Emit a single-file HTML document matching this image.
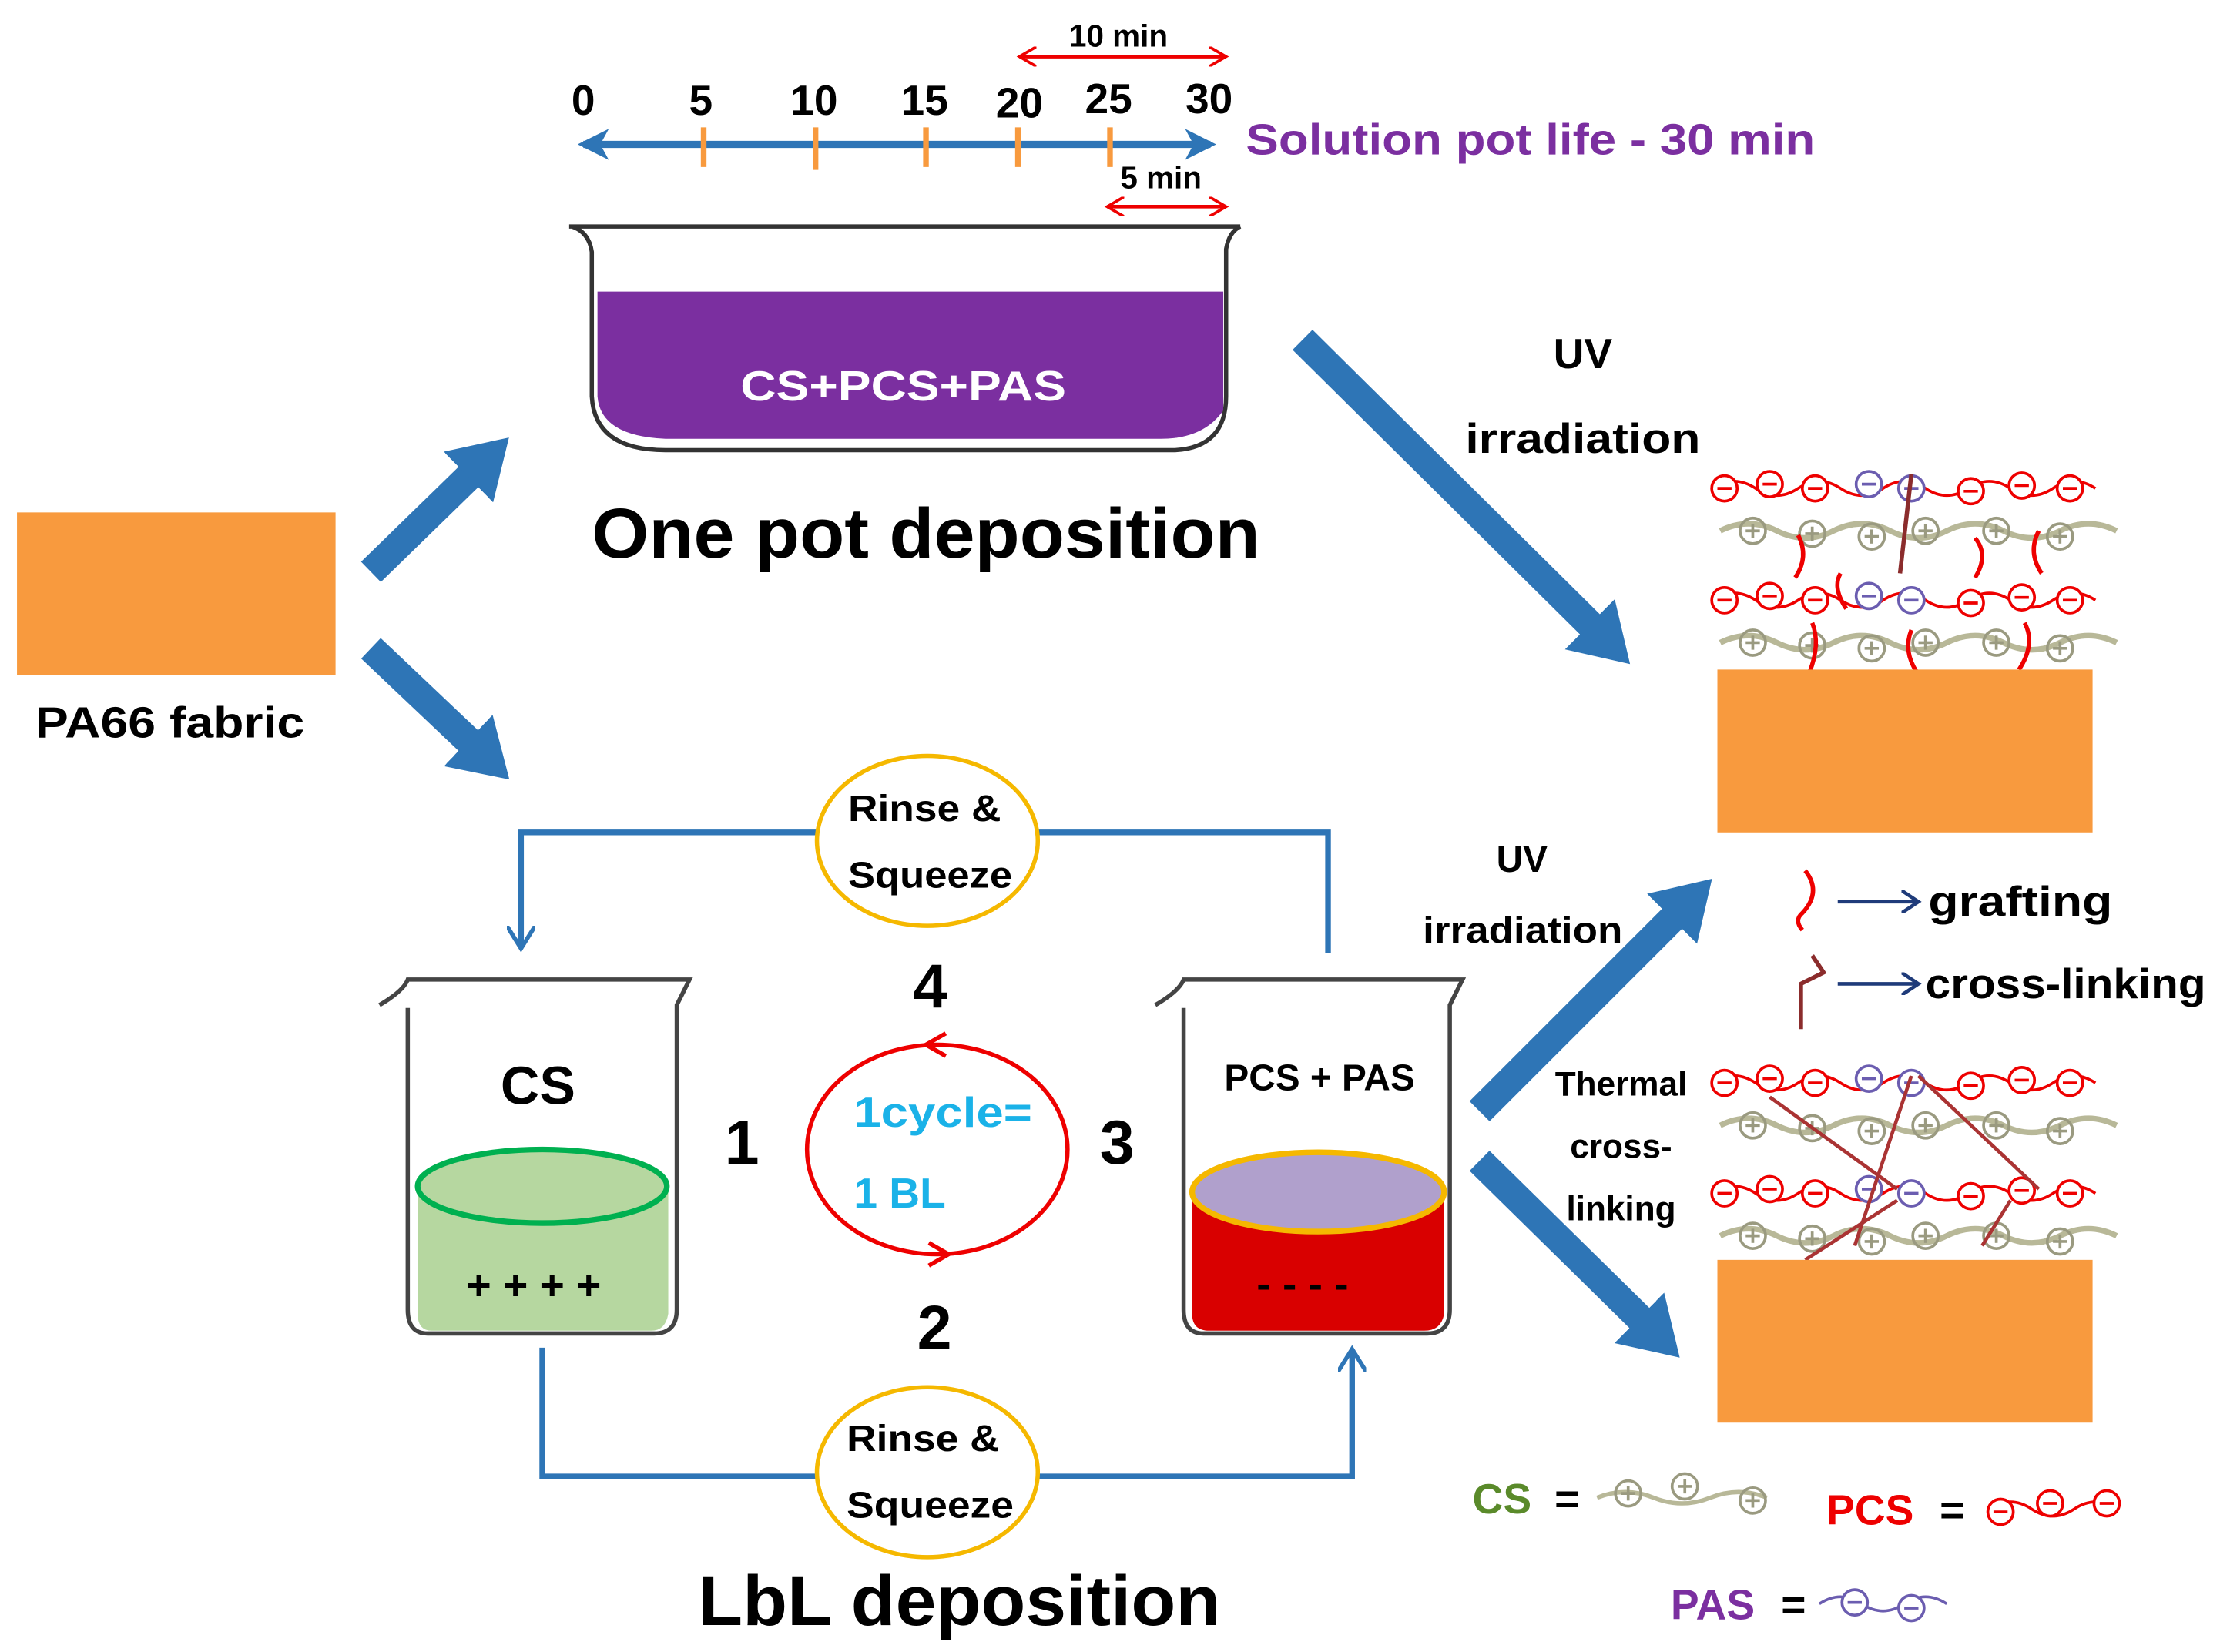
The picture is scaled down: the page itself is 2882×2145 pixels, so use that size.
<!DOCTYPE html>
<html><head><meta charset="utf-8"><style>
html,body{margin:0;padding:0;background:#fff}
svg{display:block}
text{font-family:"Liberation Sans",Arial,sans-serif;font-weight:bold}
</style></head><body>
<svg width="2882" height="2145" viewBox="0 0 1568 1167" preserveAspectRatio="none" xmlns="http://www.w3.org/2000/svg">
<defs>
<marker id="bh" markerUnits="userSpaceOnUse" markerWidth="50" markerHeight="50" refX="10" refY="25" orient="auto"><path d="M0,0 L40,25 L0,50 z" fill="#2e75b6"/></marker>
<marker id="th" markerUnits="userSpaceOnUse" markerWidth="22" markerHeight="22" refX="18" refY="11" orient="auto"><path d="M0,0 L22,11 L0,22 L6,11 z" fill="#2e75b6"/></marker>
<marker id="ts" markerUnits="userSpaceOnUse" markerWidth="22" markerHeight="22" refX="4" refY="11" orient="auto"><path d="M22,0 L0,11 L22,22 L16,11 z" fill="#2e75b6"/></marker>
<marker id="re" markerUnits="userSpaceOnUse" markerWidth="14" markerHeight="14" refX="12" refY="7" orient="auto"><path d="M0,0 L12,7 L0,14" fill="none" stroke="#e00" stroke-width="2"/></marker>
<marker id="rs" markerUnits="userSpaceOnUse" markerWidth="14" markerHeight="14" refX="2" refY="7" orient="auto"><path d="M14,0 L2,7 L14,14" fill="none" stroke="#e00" stroke-width="2"/></marker>
<marker id="la" markerUnits="userSpaceOnUse" markerWidth="20" markerHeight="20" refX="14" refY="10" orient="auto"><path d="M0,0 L16,10 L0,20" fill="none" stroke="#2e75b6" stroke-width="3"/></marker>
<marker id="na" markerUnits="userSpaceOnUse" markerWidth="16" markerHeight="16" refX="12" refY="8" orient="auto"><path d="M0,0 L12,8 L0,16" fill="none" stroke="#1f3b7a" stroke-width="2.5"/></marker>
<g id="neg"><circle r="9" fill="#fff" stroke="#e00" stroke-width="2"/><line x1="-5" y1="0" x2="5" y2="0" stroke="#e00" stroke-width="2"/></g>
<g id="pos"><circle r="9" fill="none" stroke="#9a9a80" stroke-width="2"/><line x1="-5" y1="0" x2="5" y2="0" stroke="#9a9a80" stroke-width="2"/><line x1="0" y1="-5" x2="0" y2="5" stroke="#9a9a80" stroke-width="2"/></g>
<g id="pv"><circle r="9" fill="#fff" stroke="#6b5db0" stroke-width="2"/><line x1="-5" y1="0" x2="5" y2="0" stroke="#6b5db0" stroke-width="2"/></g>
<g id="layer">
<path d="M1210,0 q15,-10 30,0 t30,0 t30,0 t30,0 t30,0 t30,0 t30,0 t30,0 t30,0" fill="none" stroke="#e00" stroke-width="2"/>
<use href="#neg" x="1218" y="0"/><use href="#neg" x="1250" y="-3"/><use href="#neg" x="1282" y="0"/><use href="#pv" x="1320" y="-3"/><use href="#pv" x="1350" y="0"/><use href="#neg" x="1392" y="2"/><use href="#neg" x="1428" y="-2"/><use href="#neg" x="1462" y="0"/>
<path d="M1215,30 q20,-10 40,0 t40,0 t40,0 t40,0 t40,0 t40,0 t40,0" fill="none" stroke="#b8b898" stroke-width="4"/>
<use href="#pos" x="1238" y="30"/><use href="#pos" x="1280" y="32"/><use href="#pos" x="1322" y="34"/><use href="#pos" x="1360" y="30"/><use href="#pos" x="1410" y="30"/><use href="#pos" x="1455" y="34"/>
</g>
</defs>

<!-- timeline -->
<line x1="412" y1="102" x2="855" y2="102" stroke="#2e75b6" stroke-width="5" marker-end="url(#th)" marker-start="url(#ts)"/>
<g stroke="#f89a3e" stroke-width="4"><line x1="497" y1="90" x2="497" y2="118"/><line x1="576" y1="90" x2="576" y2="120"/><line x1="654" y1="90" x2="654" y2="118"/><line x1="719" y1="90" x2="719" y2="118"/><line x1="784" y1="90" x2="784" y2="118"/></g>
<g font-size="30" text-anchor="middle" fill="#000">
<text x="412" y="81">0</text><text x="495" y="81">5</text><text x="575" y="81">10</text><text x="653" y="81">15</text><text x="720" y="83">20</text><text x="783" y="80">25</text><text x="854" y="80">30</text></g>
<line x1="720" y1="40" x2="866" y2="40" stroke="#e00" stroke-width="2.5" marker-end="url(#re)" marker-start="url(#rs)"/>
<text x="790" y="33" font-size="22" text-anchor="middle">10 min</text>
<line x1="782" y1="146" x2="866" y2="146" stroke="#e00" stroke-width="2.5" marker-end="url(#re)" marker-start="url(#rs)"/>
<text x="820" y="133" font-size="22" text-anchor="middle">5 min</text>
<text x="880" y="109" font-size="31" fill="#7b2fa0" textLength="402" lengthAdjust="spacingAndGlyphs">Solution pot life - 30 min</text>

<!-- pot -->
<path d="M402,160 L876,160 M404,160 Q416,164 418,178 L418,280 Q420,318 470,318 L830,318 Q866,316 866,280 L866,176 Q868,164 876,160" fill="none" stroke="#333" stroke-width="3"/>
<path d="M422,206 L864,206 L864,290 Q850,310 820,310 L470,310 Q424,308 422,280 Z" fill="#7b2fa0"/>
<text x="523" y="283" font-size="30" fill="#fff" textLength="230" lengthAdjust="spacingAndGlyphs">CS+PCS+PAS</text>
<text x="418" y="394" font-size="50" textLength="472" lengthAdjust="spacingAndGlyphs">One pot deposition</text>

<!-- fabric -->
<rect x="12" y="362" width="225" height="115" fill="#f89a3e"/>
<text x="25" y="521" font-size="31" textLength="190" lengthAdjust="spacingAndGlyphs">PA66 fabric</text>

<!-- blue big arrows -->
<g stroke="#2e75b6" stroke-width="20" marker-end="url(#bh)">
<line x1="262" y1="404" x2="338" y2="330"/>
<line x1="262" y1="458" x2="338" y2="530"/>
<line x1="920" y1="240" x2="1130" y2="448"/>
<line x1="1045" y1="785" x2="1188" y2="642"/>
<line x1="1045" y1="820" x2="1165" y2="938"/>
</g>
<text x="1118" y="260" font-size="30" text-anchor="middle">UV</text>
<text x="1035" y="320" font-size="30" textLength="166" lengthAdjust="spacingAndGlyphs">irradiation</text>

<!-- right top stack -->
<use href="#layer" y="345"/><use href="#layer" y="424"/>
<g stroke="#e00" stroke-width="3" fill="none"><path d="M1270,378 q8,15 -2,30"/><path d="M1300,405 q-6,10 4,25"/><path d="M1395,380 q10,12 0,28"/><path d="M1440,375 q-8,15 2,30"/><path d="M1280,440 q6,15 -2,35"/><path d="M1350,445 q-6,15 4,30"/><path d="M1430,440 q8,15 -4,33"/></g>
<path d="M1350,335 l-8,70" stroke="#8b2c2c" stroke-width="3"/>
<rect x="1213" y="473" width="265" height="115" fill="#f89a3e"/>

<!-- legend grafting -->
<path d="M1275,615 q12,15 -2,30 q-6,5 0,12" stroke="#e00" stroke-width="3" fill="none"/>
<line x1="1298" y1="637" x2="1355" y2="637" stroke="#1f3b7a" stroke-width="2.5" marker-end="url(#na)"/>
<text x="1362" y="647" font-size="30" textLength="130" lengthAdjust="spacingAndGlyphs">grafting</text>
<path d="M1280,675 l8,12 l-16,8 l0,32" stroke="#8b2c2c" stroke-width="3" fill="none"/>
<line x1="1298" y1="695" x2="1355" y2="695" stroke="#1f3b7a" stroke-width="2.5" marker-end="url(#na)"/>
<text x="1360" y="705" font-size="30" textLength="198" lengthAdjust="spacingAndGlyphs">cross-linking</text>

<!-- right bottom stack -->
<use href="#layer" y="765"/><use href="#layer" y="843"/>
<g stroke="#a33" stroke-width="2.5"><line x1="1250" y1="775" x2="1340" y2="840"/><line x1="1350" y1="760" x2="1310" y2="880"/><line x1="1355" y1="760" x2="1440" y2="840"/><line x1="1340" y1="848" x2="1275" y2="890"/><line x1="1420" y1="848" x2="1400" y2="880"/></g>
<rect x="1213" y="890" width="265" height="115" fill="#f89a3e"/>

<!-- UV lower labels -->
<text x="1075" y="616" font-size="26" text-anchor="middle">UV</text>
<text x="1005" y="666" font-size="26" textLength="141" lengthAdjust="spacingAndGlyphs">irradiation</text>
<text x="1145" y="774" font-size="24" text-anchor="middle">Thermal</text>
<text x="1145" y="818" font-size="24" text-anchor="middle">cross-</text>
<text x="1145" y="862" font-size="24" text-anchor="middle">linking</text>

<!-- LbL loop lines -->
<path d="M938,673 L938,588 L368,588 L368,668" fill="none" stroke="#2e75b6" stroke-width="4" marker-end="url(#la)"/>
<path d="M383,952 L383,1043 L955,1043 L955,955" fill="none" stroke="#2e75b6" stroke-width="4" marker-end="url(#la)"/>
<ellipse cx="655" cy="594" rx="78" ry="60" fill="#fff" stroke="#f5b800" stroke-width="3"/>
<text x="599" y="580" font-size="26" textLength="108" lengthAdjust="spacingAndGlyphs">Rinse &amp;</text>
<text x="599" y="627" font-size="26" textLength="116" lengthAdjust="spacingAndGlyphs">Squeeze</text>
<ellipse cx="655" cy="1040" rx="78" ry="60" fill="#fff" stroke="#f5b800" stroke-width="3"/>
<text x="598" y="1025" font-size="26" textLength="108" lengthAdjust="spacingAndGlyphs">Rinse &amp;</text>
<text x="598" y="1072" font-size="26" textLength="118" lengthAdjust="spacingAndGlyphs">Squeeze</text>

<!-- beakers -->
<path d="M268,710 Q285,700 288,692 L487,692 L478,710 L478,925 Q478,942 462,942 L302,942 Q288,942 288,925 L288,712" fill="#fff" stroke="#444" stroke-width="3"/>
<path d="M295,838 L472,838 L472,928 Q470,940 460,940 L305,940 Q295,940 295,928 Z" fill="#b6d7a0"/>
<ellipse cx="383" cy="838" rx="88" ry="26" fill="#b6d7a0" stroke="#00b050" stroke-width="4"/>
<text x="380" y="780" font-size="38" text-anchor="middle">CS</text>
<text x="377" y="918" font-size="30" text-anchor="middle">+ + + +</text>

<path d="M816,710 Q833,700 836,692 L1033,692 L1024,710 L1024,925 Q1024,942 1008,942 L850,942 Q836,942 836,925 L836,712" fill="#fff" stroke="#444" stroke-width="3"/>
<path d="M842,842 L1020,842 L1020,928 Q1018,940 1006,940 L854,940 Q842,940 842,928 Z" fill="#d90000"/>
<ellipse cx="931" cy="842" rx="89" ry="28" fill="#b0a0cc" stroke="#f5b800" stroke-width="4"/>
<text x="932" y="770" font-size="26" text-anchor="middle">PCS + PAS</text>
<text x="920" y="917" font-size="30" text-anchor="middle">- - - -</text>

<!-- cycle -->
<ellipse cx="662" cy="812" rx="92" ry="74" fill="none" stroke="#e00" stroke-width="3"/>
<path d="M668,730 L654,738 L668,746" fill="none" stroke="#e00" stroke-width="3"/>
<path d="M656,878 L670,886 L656,894" fill="none" stroke="#e00" stroke-width="3"/>
<text x="603" y="796" font-size="30" fill="#1ab2e8" textLength="126" lengthAdjust="spacingAndGlyphs">1cycle=</text>
<text x="603" y="853" font-size="30" fill="#1ab2e8">1 BL</text>
<g font-size="44" text-anchor="middle"><text x="657" y="712">4</text><text x="524" y="822">1</text><text x="789" y="822">3</text><text x="660" y="953">2</text></g>
<text x="493" y="1148" font-size="50" textLength="369" lengthAdjust="spacingAndGlyphs">LbL deposition</text>

<!-- bottom legend -->
<text x="1040" y="1069" font-size="30" fill="#5a8a2a">CS</text><text x="1098" y="1069" font-size="30">=</text>
<path d="M1128,1058 q20,-8 40,0 t40,0 t40,0" fill="none" stroke="#b8b898" stroke-width="3"/>
<use href="#pos" x="1150" y="1055"/><use href="#pos" x="1190" y="1050"/><use href="#pos" x="1238" y="1060"/>
<text x="1290" y="1077" font-size="30" fill="#e00">PCS</text><text x="1370" y="1077" font-size="30">=</text>
<path d="M1405,1066 q15,-10 30,0 t30,0 t30,0" fill="none" stroke="#e00" stroke-width="2"/>
<use href="#neg" x="1413" y="1068"/><use href="#neg" x="1448" y="1062"/><use href="#neg" x="1488" y="1062"/>
<text x="1180" y="1144" font-size="30" fill="#7b2fa0">PAS</text><text x="1258" y="1144" font-size="30">=</text>
<path d="M1285,1133 q15,-10 30,0 t30,0 t30,0" fill="none" stroke="#6b5db0" stroke-width="2"/>
<use href="#pv" x="1310" y="1132"/><use href="#pv" x="1350" y="1136"/>
</svg>
</body></html>
